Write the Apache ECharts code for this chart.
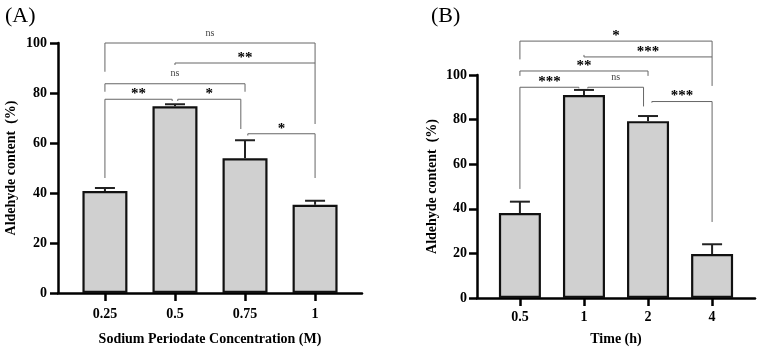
<!DOCTYPE html>
<html>
<head>
<meta charset="utf-8">
<script src="https://cdn.jsdelivr.net/npm/echarts@6/dist/echarts.min.js"></script>
<style>
  html, body { margin: 0; padding: 0; background: #fff; }
  #chart { width: 758px; height: 351px; }
</style>
</head>
<body>
<div id="chart"></div>
<script>
// panel A data
var catsA = ['0.25', '0.5', '0.75', '1'];
var meanA = [40.8, 74.7, 53.9, 35.3];
var errA = [1.2, 0.8, 7.2, 1.6];
// panel B data
var catsB = ['0.5', '1', '2', '4'];
var meanB = [38.1, 91.0, 79.3, 19.7];
var errB = [5.1, 2.3, 2.3, 4.4];
var yTicks = [0, 20, 40, 60, 80, 100];

// brackets: [from, to, height, left leg end, right leg end]
var bracketsA = [
  [0, 3, 100, 88.5, 92],
  [1, 3, 92, 91.2, 67.6],
  [0, 2, 83.7, 80.5, 80.5],
  [0, 0.96, 77.5, 46, 76.8],
  [1.04, 1.94, 77.5, 76.8, 65.6],
  [2.04, 3, 63.7, 63, 46]
];
var sigA = ['ns', '**', 'ns', '**', '*', '*'];
var bracketsB = [
  [0, 3, 115.2, 107, 108.1],
  [1, 3, 108.1, 109, 95.1],
  [0, 2, 101.8, 99.6, 99.6],
  [0, 0.92, 94.5, 48.9, 94],
  [1.06, 1.93, 94.5, 94, 85.9],
  [2.06, 3, 88.1, 87.6, 34.1]
];
var sigB = ['*', '***', '**', '***', 'ns', '***'];

var FONT = 'Liberation Serif';
var myChart = echarts.init(document.getElementById('chart'));

function xAxisOf(g, cats, title, gap, margin) {
  return {
    type: 'value', gridIndex: g, min: -0.67, max: 3.67,
    name: title, nameLocation: 'middle', nameGap: gap,
    nameTextStyle: { fontFamily: FONT, fontWeight: 'bold', fontSize: 14, color: '#000' },
    splitLine: { show: false },
    axisLine: { onZero: false, lineStyle: { color: '#000', width: 2.5 } },
    axisTick: { show: true, customValues: [0, 1, 2, 3], length: 8, lineStyle: { color: '#000', width: 2.5 } },
    axisLabel: {
      customValues: [0, 1, 2, 3], margin: margin,
      formatter: function (v) { return cats[Math.round(v)]; },
      fontFamily: FONT, fontWeight: 'bold', fontSize: 14, color: '#000'
    }
  };
}
function yAxisOf(g, gap, margin) {
  return {
    type: 'value', gridIndex: g, min: 0, max: 100, interval: 20,
    name: 'Aldehyde content  (%)', nameLocation: 'middle', nameGap: gap,
    nameTextStyle: { fontFamily: FONT, fontWeight: 'bold', fontSize: 14, color: '#000' },
    splitLine: { show: false },
    axisLine: { show: true, onZero: false, lineStyle: { color: '#000', width: 2.5 } },
    axisTick: { show: true, length: 8, lineStyle: { color: '#000', width: 2.5 } },
    axisLabel: { margin: margin, fontFamily: FONT, fontWeight: 'bold', fontSize: 14, color: '#000',
      customValues: yTicks }
  };
}
function barSeries(g, means, w) {
  return {
    type: 'bar', xAxisIndex: g, yAxisIndex: g, barWidth: w,
    data: means.map(function (v, i) { return [i, v]; }),
    itemStyle: { color: '#d0d0d0', borderColor: '#111', borderWidth: 2.2 },
    silent: true
  };
}
function errSeries(g, means, errs) {
  return {
    type: 'custom', xAxisIndex: g, yAxisIndex: g, clip: false, z: 3,
    data: means.map(function (v, i) { return [i, v, v + errs[i]]; }),
    renderItem: function (params, api) {
      var p0 = api.coord([api.value(0), api.value(1)]);
      var p1 = api.coord([api.value(0), api.value(2)]);
      var st = { stroke: '#222', lineWidth: 2, fill: null };
      return { type: 'group', children: [
        { type: 'line', shape: { x1: p0[0], y1: p0[1], x2: p1[0], y2: p1[1] }, style: st },
        { type: 'line', shape: { x1: p1[0] - 10, y1: p1[1], x2: p1[0] + 10, y2: p1[1] }, style: st }
      ] };
    }
  };
}
function bracketSeries(g, brackets, sigs) {
  return {
    type: 'custom', xAxisIndex: g, yAxisIndex: g, clip: false, z: 4,
    data: brackets,
    renderItem: function (params, api) {
      var x1 = api.value(0), x2 = api.value(1), y = api.value(2);
      var a = api.coord([x1, api.value(3)]), b = api.coord([x1, y]);
      var c = api.coord([x2, y]), d = api.coord([x2, api.value(4)]);
      var s = sigs[params.dataIndex];
      var ns = s === 'ns';
      return { type: 'group', children: [
        { type: 'polyline', shape: { points: [a, b, c, d] },
          style: { stroke: '#666', lineWidth: 1, fill: null } },
        { type: 'text', x: (b[0] + c[0]) / 2, y: b[1] - (ns ? 10 : 5),
          style: { text: s, align: 'center', verticalAlign: 'middle',
            fontFamily: FONT, fontWeight: ns ? 'normal' : 'bold', fontSize: ns ? 10 : 15,
            fill: ns ? '#444' : '#000' } }
      ] };
    }
  };
}

var option = {
  backgroundColor: '#fff',
  animation: false,
  title: [
    { text: '(A)', left: 0, top: 0, textStyle: { fontFamily: FONT, fontWeight: 'normal', fontSize: 22, color: '#000' } },
    { text: '(B)', left: 426, top: 0, textStyle: { fontFamily: FONT, fontWeight: 'normal', fontSize: 22, color: '#000' } }
  ],
  grid: [
    { left: 58, top: 43, width: 304, height: 258 },
    { left: 477, top: 75, width: 278, height: 225 }
  ],
  xAxis: [
    xAxisOf(0, catsA, 'Sodium Periodate Concentration (M)', 39, 14),
    xAxisOf(1, catsB, 'Time (h)', 34, 12)
  ],
  yAxis: [yAxisOf(0, 40, 11), yAxisOf(1, 38, 10)],
  series: [
    barSeries(0, meanA, 45), errSeries(0, meanA, errA), bracketSeries(0, bracketsA, sigA),
    barSeries(1, meanB, 42), errSeries(1, meanB, errB), bracketSeries(1, bracketsB, sigB)
  ]
};
myChart.setOption(option);
</script>
</body>
</html>
